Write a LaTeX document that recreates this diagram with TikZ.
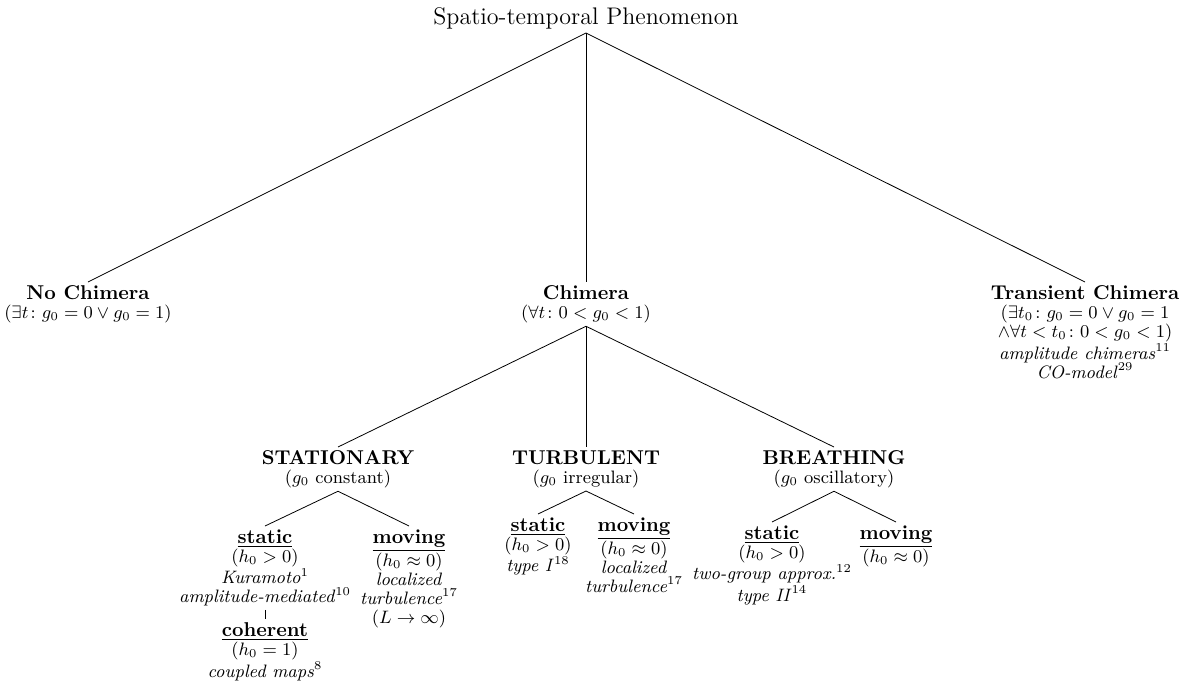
\documentclass[tikz,border=0pt]{standalone}
\usepackage{amsmath}
\newcommand\nodetitle[1]{{\fontsize{10}{9.5}\selectfont\bfseries #1}}
\begin{document}
\begin{tikzpicture}[x=0.5pt,y=-0.5pt,
  every node/.style={inner sep=1.5pt, align=center, anchor=north,
    font=\fontsize{9}{9.5}\selectfont},
  edge/.style={draw=black, line width=0.4pt}]
\useasboundingbox (0,0) rectangle (1181,681);
% root
\node[anchor=south, font=\large] (root) at (586,33) {Spatio-temporal Phenomenon};
% level 1
\node (nochim) at (88,282) {\nodetitle{No Chimera}\\ $(\exists t\colon g_0=0\vee g_0=1)$};
\node (chim) at (586,282) {\nodetitle{Chimera}\\ $(\forall t\colon 0<g_0<1)$};
\node (trans) at (1085,282) {\nodetitle{Transient Chimera}\\ $(\exists t_0\colon g_0=0\vee g_0=1$\\ $\wedge\forall t<t_0\colon 0<g_0<1)$\\ \textit{amplitude chimeras}$^{11}$\\ \textit{CO-model}$^{29}$};
% level 2
\node (stat) at (338,447) {\nodetitle{STATIONARY}\\ ($g_0$ constant)};
\node (turb) at (586,447) {\nodetitle{TURBULENT}\\ ($g_0$ irregular)};
\node (breath) at (834,447) {\nodetitle{BREATHING}\\ ($g_0$ oscillatory)};
% level 3
\node (sst) at (265,526) {\nodetitle{\underline{static}}\\ $(h_0>0)$\\ \textit{Kuramoto}$^{1}$\\ \textit{amplitude-mediated}$^{10}$};
\node (smv) at (409,526) {\nodetitle{\underline{moving}}\\ $(h_0\approx0)$\\ \textit{localized}\\ \textit{turbulence}$^{17}$\\ $(L\to\infty)$};
\node (coh) at (265,619) {\nodetitle{\underline{coherent}}\\ $(h_0=1)$\\ \textit{coupled maps}$^{8}$};
\node (tst) at (538,514) {\nodetitle{\underline{static}}\\ $(h_0>0)$\\ \textit{type I}$^{18}$};
\node (tmv) at (634,514) {\nodetitle{\underline{moving}}\\ $(h_0\approx0)$\\ \textit{localized}\\ \textit{turbulence}$^{17}$};
\node (bst) at (772,522) {\nodetitle{\underline{static}}\\ $(h_0>0)$\\ \textit{two-group approx.}$^{12}$\\ \textit{type II}$^{14}$};
\node (bmv) at (896,522) {\nodetitle{\underline{moving}}\\ $(h_0\approx0)$};
% edges
\draw[edge] (root.south) -- (nochim.north);
\draw[edge] (root.south) -- (chim.north);
\draw[edge] (root.south) -- (trans.north);
\draw[edge] (chim.south) -- (stat.north);
\draw[edge] (chim.south) -- (turb.north);
\draw[edge] (chim.south) -- (breath.north);
\draw[edge] (stat.south) -- (sst.north);
\draw[edge] (stat.south) -- (smv.north);
\draw[edge] (turb.south) -- (tst.north);
\draw[edge] (turb.south) -- (tmv.north);
\draw[edge] (breath.south) -- (bst.north);
\draw[edge] (breath.south) -- (bmv.north);
\draw[edge] (sst.south) -- (coh.north);
\end{tikzpicture}
\end{document}
